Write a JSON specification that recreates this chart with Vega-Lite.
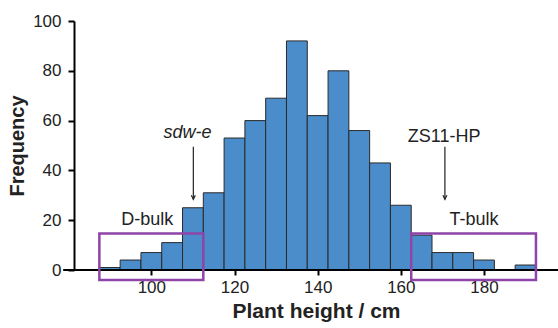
{
  "$schema": "https://vega.github.io/schema/vega-lite/v6.json",
  "width": 484,
  "height": 249,
  "autosize": {"type": "none"},
  "padding": {"left": 74, "top": 21, "right": 0, "bottom": 58},
  "background": "white",
  "config": {"view": {"stroke": null}, "font": "Liberation Sans"},
  "datasets": {
    "bars": [
      {"lo": 87.5, "hi": 92.5, "count": 1},
      {"lo": 92.5, "hi": 97.5, "count": 4},
      {"lo": 97.5, "hi": 102.5, "count": 7},
      {"lo": 102.5, "hi": 107.5, "count": 11},
      {"lo": 107.5, "hi": 112.5, "count": 25},
      {"lo": 112.5, "hi": 117.5, "count": 31},
      {"lo": 117.5, "hi": 122.5, "count": 53},
      {"lo": 122.5, "hi": 127.5, "count": 60},
      {"lo": 127.5, "hi": 132.5, "count": 69},
      {"lo": 132.5, "hi": 137.5, "count": 92},
      {"lo": 137.5, "hi": 142.5, "count": 62},
      {"lo": 142.5, "hi": 147.5, "count": 80},
      {"lo": 147.5, "hi": 152.5, "count": 56},
      {"lo": 152.5, "hi": 157.5, "count": 43},
      {"lo": 157.5, "hi": 162.5, "count": 26},
      {"lo": 162.5, "hi": 167.5, "count": 14},
      {"lo": 167.5, "hi": 172.5, "count": 7},
      {"lo": 172.5, "hi": 177.5, "count": 7},
      {"lo": 177.5, "hi": 182.5, "count": 4},
      {"lo": 182.5, "hi": 187.5, "count": 0},
      {"lo": 187.5, "hi": 192.5, "count": 2}
    ],
    "boxes": [
      {"name": "D-bulk", "x1": 87.5, "x2": 112.5, "y1": -4, "y2": 14.7},
      {"name": "T-bulk", "x1": 162.5, "x2": 192.5, "y1": -4, "y2": 14.7}
    ],
    "labels": [
      {"text": "D-bulk", "x": 99, "y": 19.9},
      {"text": "T-bulk", "x": 177.6, "y": 19.9},
      {"text": "ZS11-HP", "x": 170.4, "y": 53.5}
    ],
    "italicLabels": [
      {"text": "sdw-e", "x": 108.7, "y": 55.1}
    ],
    "arrows": [
      {"x": 110.1, "ytop": 49.5, "ytip": 28.4},
      {"x": 170.6, "ytop": 49.5, "ytip": 28.4}
    ],
    "baseline": [{"x1": 78.8, "x2": 197.8, "y": 0}]
  },
  "layer": [
    {
      "data": {"name": "bars"},
      "mark": {"type": "rect", "fill": "#4b8dcb", "stroke": "#2a2a2a", "strokeWidth": 1},
      "encoding": {
        "x": {
          "field": "lo", "type": "quantitative",
          "scale": {"domain": [81.4, 197.8], "nice": false, "zero": false},
          "axis": {
            "values": [100, 120, 140, 160, 180],
            "domain": false,
            "grid": false,
            "tickColor": "black", "tickWidth": 2, "tickSize": 5,
            "labelFontSize": 17, "labelColor": "#222", "labelPadding": 4,
            "title": "Plant height / cm",
            "titleFontSize": 21, "titleFontWeight": "bold", "titleColor": "#222", "titlePadding": 5
          }
        },
        "x2": {"field": "hi"},
        "y": {
          "field": "count", "type": "quantitative",
          "scale": {"domain": [0, 100], "nice": false},
          "axis": {
            "values": [0, 20, 40, 60, 80, 100],
            "grid": false,
            "domainColor": "black", "domainWidth": 2,
            "tickColor": "black", "tickWidth": 2, "tickSize": 6,
            "labelFontSize": 17, "labelColor": "#222", "labelPadding": 7,
            "title": "Frequency",
            "titleFontSize": 20, "titleFontWeight": "bold", "titleColor": "#222", "titlePadding": 5
          }
        },
        "y2": {"datum": 0}
      }
    },
    {
      "data": {"name": "baseline"},
      "mark": {"type": "rule", "color": "black", "strokeWidth": 2},
      "encoding": {
        "x": {"field": "x1", "type": "quantitative"},
        "x2": {"field": "x2"},
        "y": {"field": "y", "type": "quantitative"}
      }
    },
    {
      "data": {"name": "boxes"},
      "mark": {"type": "rect", "fill": null, "fillOpacity": 0, "stroke": "#8e44a8", "strokeWidth": 2.5},
      "encoding": {
        "x": {"field": "x1", "type": "quantitative"},
        "x2": {"field": "x2"},
        "y": {"field": "y1", "type": "quantitative"},
        "y2": {"field": "y2"}
      }
    },
    {
      "data": {"name": "arrows"},
      "mark": {"type": "rule", "color": "#222", "strokeWidth": 1.2},
      "encoding": {
        "x": {"field": "x", "type": "quantitative"},
        "y": {"field": "ytop", "type": "quantitative"},
        "y2": {"field": "ytip"}
      }
    },
    {
      "data": {"name": "arrows"},
      "mark": {"type": "point", "shape": "M -0.6 -1.2 L 0 0 L 0.6 -1.2", "filled": false, "stroke": "#222", "strokeWidth": 1.2, "size": 45, "opacity": 1},
      "encoding": {
        "x": {"field": "x", "type": "quantitative"},
        "y": {"field": "ytip", "type": "quantitative"}
      }
    },
    {
      "data": {"name": "labels"},
      "mark": {"type": "text", "fontSize": 18, "color": "#222", "align": "center", "baseline": "middle"},
      "encoding": {
        "x": {"field": "x", "type": "quantitative"},
        "y": {"field": "y", "type": "quantitative"},
        "text": {"field": "text"}
      }
    },
    {
      "data": {"name": "italicLabels"},
      "mark": {"type": "text", "fontSize": 18, "fontStyle": "italic", "color": "#222", "align": "center", "baseline": "middle"},
      "encoding": {
        "x": {"field": "x", "type": "quantitative"},
        "y": {"field": "y", "type": "quantitative"},
        "text": {"field": "text"}
      }
    }
  ]
}
